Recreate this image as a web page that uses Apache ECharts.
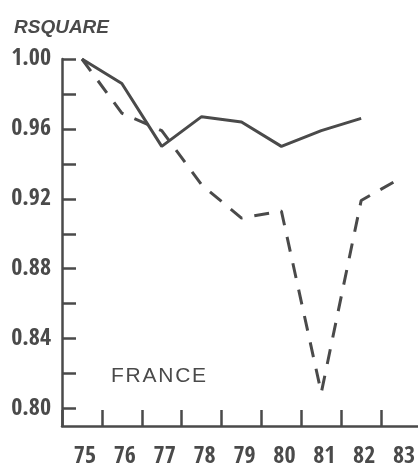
<!DOCTYPE html>
<html>
<head>
<meta charset="utf-8">
<script src="https://cdn.jsdelivr.net/npm/echarts@6/dist/echarts.min.js"></script>
<style>
  html, body { margin: 0; padding: 0; background: #fff; }
  #chart { width: 418px; height: 467px; }
</style>
</head>
<body>
<div id="chart"></div>
<script>
// Years of the fit window
const years = ['75', '76', '77', '78', '79', '80', '81', '82', '83'];
// R-square, solid curve
const rsqSolid = [1.00, 0.986, 0.950, 0.967, 0.964, 0.950, 0.959, 0.966, null];
// R-square, dashed curve
const rsqDashed = [1.00, 0.969, 0.959, 0.928, 0.909, 0.913, 0.809, 0.919, 0.932];
// Tick marks and labelled ticks on the value axis
const yTicks = [0.80, 0.82, 0.84, 0.86, 0.88, 0.90, 0.92, 0.94, 0.96, 0.98, 1.00];
const yLabels = [0.80, 0.84, 0.88, 0.92, 0.96, 1.00];

const ink = '#4a4a4a';
const numFont = '"Open Sans Condensed", "Roboto Condensed", "DejaVu Sans Condensed", sans-serif';

const chart = echarts.init(document.getElementById('chart'), null, { renderer: 'canvas' });
chart.setOption({
  animation: false,
  backgroundColor: '#ffffff',
  title: [
    {
      text: 'RSQUARE',
      left: 9, top: 13,
      textStyle: { fontFamily: 'Liberation Sans, sans-serif', fontStyle: 'italic', fontWeight: 'bold',
                   fontSize: 19, color: ink }
    },
    {
      text: 'F\u200AR\u200AA\u200AN\u200AC\u200AE',
      left: 106, top: 361,
      textStyle: { fontFamily: 'Liberation Sans, sans-serif', fontWeight: 'normal',
                   fontSize: 21, color: ink }
    }
  ],
  grid: { left: 62, right: -3, top: 59, bottom: 41, containLabel: false, outerBoundsMode: 'none' },
  xAxis: {
    type: 'category',
    data: years,
    boundaryGap: true,
    axisLine: { lineStyle: { color: ink, width: 2.5 } },
    axisTick: { show: true, inside: true, length: 16, interval: 0, lineStyle: { color: ink, width: 2.5 } },
    axisLabel: { interval: 0, margin: 19, padding: [0, 0, 0, 6], fontFamily: numFont, fontWeight: 'bold',
                 fontSize: 24, color: ink },
    splitLine: { show: false }
  },
  yAxis: {
    type: 'value',
    min: 0.79, max: 1.00,
    axisLine: { show: true, lineStyle: { color: ink, width: 2.5 } },
    axisTick: { show: true, inside: true, length: 14, customValues: yTicks, lineStyle: { color: ink, width: 2.5 } },
    axisLabel: { customValues: yLabels, margin: 11, fontFamily: numFont, fontWeight: 'bold', fontSize: 24, color: ink,
                 formatter: v => v.toFixed(2) },
    splitLine: { show: false }
  },
  series: [
    {
      type: 'line', data: rsqSolid, symbol: 'none', smooth: false,
      lineStyle: { color: ink, width: 3 }
    },
    {
      type: 'line', data: rsqDashed, symbol: 'none', smooth: false,
      lineStyle: { color: ink, width: 3, type: [15, 12] }
    }
  ]
});
</script>
</body>
</html>
